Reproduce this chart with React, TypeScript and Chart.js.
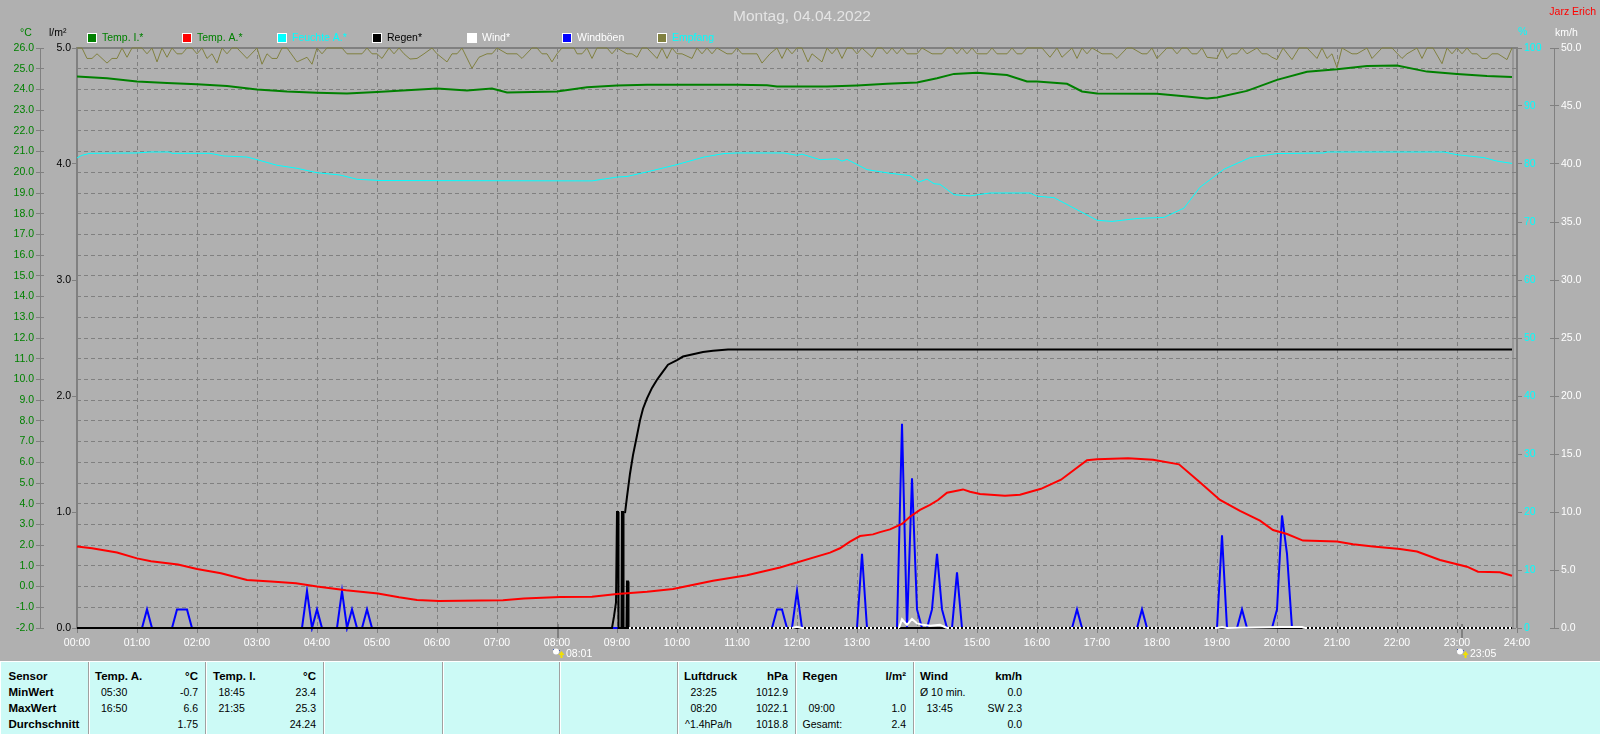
import React, { useEffect, useRef } from "react";
import { Chart, registerables } from "chart.js";

Chart.register(...registerables);

const FONT = '"Liberation Sans", Arial, sans-serif';

// ---- series (minutes since midnight / values) ----
const tempIMin = [0,30,60,90,120,150,180,210,240,270,300,330,360,390,415,430,480,510,540,570,660,690,700,750,780,810,840,860,877,900,930,950,960,990,1005,1020,1080,1110,1130,1140,1170,1200,1230,1260,1290,1320,1350,1380,1410,1435];
const tempIVal = [24.62,24.54,24.38,24.31,24.25,24.16,24.0,23.9,23.84,23.8,23.88,23.96,24.04,23.95,24.04,23.85,23.9,24.11,24.19,24.22,24.22,24.2,24.14,24.14,24.19,24.27,24.33,24.54,24.75,24.81,24.7,24.38,24.38,24.27,23.9,23.8,23.79,23.66,23.56,23.61,23.93,24.46,24.85,24.97,25.13,25.15,24.86,24.75,24.65,24.6];

const tempAMin = [0,15,40,60,74,101,120,144,170,194,219,240,269,301,322,340,362,426,447,483,515,540,570,596,636,670,703,753,763,773,783,796,803,813,825,833,843,853,861,870,886,893,903,928,943,964,984,1010,1020,1051,1076,1102,1122,1143,1163,1183,1196,1210,1226,1260,1276,1296,1323,1340,1363,1390,1401,1423,1435];
const tempAVal = [1.93,1.85,1.64,1.36,1.22,1.07,0.85,0.64,0.32,0.24,0.16,0,-0.18,-0.33,-0.52,-0.65,-0.7,-0.66,-0.58,-0.5,-0.49,-0.36,-0.25,-0.12,0.28,0.55,0.92,1.64,1.85,2.17,2.44,2.52,2.63,2.76,3.02,3.37,3.7,3.94,4.18,4.53,4.69,4.58,4.47,4.38,4.43,4.72,5.16,6.1,6.15,6.2,6.12,5.9,5.07,4.18,3.65,3.18,2.73,2.54,2.22,2.17,2.04,1.93,1.81,1.69,1.28,0.96,0.72,0.69,0.52];

const humMin = [0,5,13,60,73,92,95,133,147,170,180,200,220,240,263,280,303,515,540,550,573,600,627,647,660,707,720,725,743,760,765,770,790,813,833,842,850,857,863,877,893,913,953,960,977,1020,1035,1060,1087,1107,1123,1147,1173,1200,1247,1250,1367,1380,1407,1420,1435];
const humVal = [81.04,81.5,81.84,81.9,82.07,82.07,81.84,81.84,81.38,81.2,80.75,79.78,79.26,78.5,78.1,77.37,77.15,77.09,77.74,77.85,78.76,79.9,81.2,81.8,81.9,81.9,81.5,81.7,80.75,80.9,80.5,80.8,79.03,78.4,78,76.9,77.4,76.6,76.5,74.7,74.5,75,75,74.45,74.2,70.3,70.1,70.6,70.8,72.4,76,79.1,81.1,81.8,81.9,82.07,82.07,81.6,81.1,80.5,80.1];

const rainTotalMin = [548,550,553,556,560,563,566,570,575,580,585,591,600,606,616,626,636,651,1435];
const rainTotalVal = [0.99,1.13,1.33,1.49,1.66,1.79,1.89,1.98,2.07,2.14,2.2,2.27,2.31,2.34,2.36,2.38,2.39,2.4,2.4];

const rainRateMin = [0,535,537,539,540,541,541.5,544.5,545,546,546.5,549.5,550,551,551.5,1435];
const rainRateVal = [0,0,0.1,0.22,1,1,0,0,1,1,0,0,0.4,0.4,0,0];

const windMin = [552,715,720,725,822,825,830,835,840,846,853,863,870,1140,1145,1150,1205,1225,1228,1435];
const windVal = [0,0,0.1,0,0,0.75,0.27,0.78,0.4,0.27,0.2,0.27,0,0,0.08,0,0.08,0.08,0,0];

const gustMin = [0,65,70,75,95,100,110,115,225,230,235,240,245,260,265,270,275,280,285,290,295,695,700,705,710,715,720,725,780,785,790,820,825,830,835,840,845,850,855,860,865,870,875,880,885,995,1000,1005,1060,1065,1070,1140,1145,1150,1160,1165,1170,1195,1200,1205,1210,1215];
const gustVal = [0,0,1.6,0,0,1.6,1.6,0,0,3.2,0,1.6,0,0,3.2,0,1.6,0,0,1.6,0,0,1.6,1.6,0,0,3.2,0,0,6.4,0,0,17.6,0,12.9,1.6,0,0,1.6,6.4,1.6,0,0,4.8,0,0,1.6,0,0,1.6,0,0,8,0,0,1.6,0,0,1.6,9.7,6.4,0];

const receptionMin = [0,5,10,15,20,30,35,40,45,50,55,65,70,75,80,85,90,95,100,105,110,115,120,125,130,135,140,145,150,155,160,170,180,185,190,195,200,205,210,220,230,235,240,245,250,265,270,285,290,295,300,305,312,317,322,327,333,340,347,355,360,370,375,380,385,395,402,410,415,420,430,440,445,455,460,465,470,475,480,485,497,500,505,510,515,520,530,535,540,550,555,560,565,570,580,585,590,595,600,605,615,620,625,630,635,640,650,655,660,665,680,685,693,700,705,710,715,720,725,731,735,745,750,755,760,765,770,775,780,785,795,800,805,810,815,820,825,830,840,845,855,865,870,875,880,885,890,895,900,910,915,920,930,935,940,945,950,960,965,973,980,985,995,1000,1005,1010,1015,1025,1035,1040,1050,1055,1065,1070,1075,1080,1090,1095,1100,1105,1110,1115,1120,1125,1130,1140,1145,1150,1155,1160,1165,1170,1180,1185,1190,1195,1200,1206,1215,1222,1230,1240,1245,1250,1255,1260,1265,1275,1280,1290,1295,1305,1315,1325,1330,1340,1345,1350,1356,1365,1370,1375,1380,1385,1390,1395,1400,1405,1410,1415,1421,1430,1435];
const receptionVal = [100,100,98.2,98.2,99,97.4,98.2,98.2,100,98.4,100,100,99,100,97.6,100,98.4,100,99,99,100,100,99,100,98.2,99,97.4,100,99,100,100,98.2,100,97.2,99,98.2,98.2,100,100,97.6,98.4,97.2,100,99,100,100,99,99,100,99,99,98.2,100,99,100,99,98.1,98.2,99,100,99,97.6,99,99,100,96.5,98.4,99,99,100,99,99,98.2,100,100,99,99,97.6,99,100,100,99,99,100,98.2,100,100,99,100,99,99,98.4,100,100,98.2,100,98.2,100,99,99,98.2,100,99,100,99,100,99,99,100,99,99,97.4,99,100,98.2,100,99,100,100,97.6,99,97.6,100,99,100,98.2,100,100,99,100,98.4,100,100,99,100,99,100,99,99,100,99,99,100,100,99,100,99,100,99,99,100,99,99,100,99,99,100,100,100,98.4,100,98.4,100,98.2,100,99,100,99,99,98.2,100,100,99,99,100,98.2,100,100,99,100,100,99,99,100,98.4,98.2,100,98.2,99,99,100,99,100,99,99,98.4,98,100,98,100,100,98.2,100,98.2,99,96.6,100,99,99,100,98.2,100,100,98.2,99,100,98.2,100,100,97.3,100,99,100,99,100,99,99,98.2,98.2,99,99,98,100,99];

// ---- axes ----
const tempRange = [-2, 26];
const rainRange = [0, 5];
const humRange = [0, 100];
const windRange = [0, 50];
const hourRange = [0, 1440];

// ---- legend ----
const legendLabels = ["Temp. I.*", "Temp. A.*", "Feuchte A.*", "Regen*", "Wind*", "Windböen", "Empfang"];
const legendSwatches = ["#008000", "#ff0000", "#00ffff", "#000000", "#ffffff", "#0000ff", "#808040"];
const legendTextColors = ["#008000", "#008000", "#00ffff", "#000000", "#ffffff", "#ffffff", "#00ffff"];

// ---- sun events ----
const sunMinutes = [481, 1385];
const sunLabels = ["08:01", "23:05"];

// ---- table ----
const separators = [88, 205, 323, 442, 559, 677, 795, 913];
type Cell = [number, number, string, boolean?, boolean?]; // x, row, text, right aligned, bold
const tableCells: Cell[] = [
  [8.5, 0, "Sensor", false, true], [8.5, 1, "MinWert", false, true], [8.5, 2, "MaxWert", false, true], [8.5, 3, "Durchschnitt", false, true],
  [95, 0, "Temp. A.", false, true], [198, 0, "°C", true, true],
  [101, 1, "05:30"], [198, 1, "-0.7", true], [101, 2, "16:50"], [198, 2, "6.6", true], [198, 3, "1.75", true],
  [213, 0, "Temp. I.", false, true], [316, 0, "°C", true, true],
  [218.5, 1, "18:45"], [316, 1, "23.4", true], [218.5, 2, "21:35"], [316, 2, "25.3", true], [316, 3, "24.24", true],
  [684, 0, "Luftdruck", false, true], [788, 0, "hPa", true, true],
  [690.5, 1, "23:25"], [788, 1, "1012.9", true], [690.5, 2, "08:20"], [788, 2, "1022.1", true], [685, 3, "^1.4hPa/h"], [788, 3, "1018.8", true],
  [802.5, 0, "Regen", false, true], [906, 0, "l/m²", true, true],
  [808.5, 2, "09:00"], [906, 2, "1.0", true], [802.5, 3, "Gesamt:"], [906, 3, "2.4", true],
  [920, 0, "Wind", false, true], [1022, 0, "km/h", true, true],
  [920, 1, "Ø 10 min."], [1022, 1, "0.0", true], [926.5, 2, "13:45"], [1022, 2, "SW 2.3", true], [1022, 3, "0.0", true],
];

const zip = (xs: number[], ys: number[]) => xs.map((x, i) => ({ x, y: ys[i] }));
const GRID = "#808080";
const DASH = [4, 3];

const decor = {
  id: "decor",
  beforeDatasetsDraw(chart: any) {
    const { ctx, chartArea: a, scales } = chart;
    ctx.save();
    ctx.strokeStyle = GRID;
    const line = (x1: number, y1: number, x2: number, y2: number, w: number) => {
      ctx.lineWidth = w;
      ctx.beginPath();
      ctx.moveTo(x1, y1);
      ctx.lineTo(x2, y2);
      ctx.stroke();
    };
    line(a.left - 1, a.top, a.right + 1, a.top, 2);
    line(a.left, a.top, a.left, a.bottom, 2);
    line(a.right, a.top, a.right, a.bottom, 2);
    line(a.right - 4, a.top, a.right - 4, a.bottom, 1);
    line(40.5, a.top, 40.5, a.bottom, 1);
    line(1554.5, a.top, 1554.5, a.bottom, 1);
    sunMinutes.forEach((m) => {
      const x = scales.x.getPixelForValue(m);
      line(x, a.bottom - 4, x, a.bottom + 10, 2);
    });
    ctx.restore();
  },
  afterDraw(chart: any) {
    const { ctx, scales } = chart;
    ctx.save();
    ctx.textBaseline = "middle";
    const text = (s: string, x: number, y: number, color: string, font: string, align: CanvasTextAlign = "left") => {
      ctx.font = font;
      ctx.fillStyle = color;
      ctx.textAlign = align;
      ctx.fillText(s, x, y);
    };
    const f = `10.5px ${FONT}`;
    text("Montag, 04.04.2022", 802, 16.5, "#e4e4e4", `15.5px ${FONT}`, "center");
    text("Jarz Erich", 1596, 12.5, "#ff0000", f, "right");
    text("°C", 20, 33, "#008000", f);
    text("l/m²", 49, 33, "#000000", f);
    text("%", 1518, 32.5, "#00ffff", f);
    text("km/h", 1555, 33, "#ffffff", f);
    legendLabels.forEach((label, i) => {
      const x = 87 + 95 * i;
      ctx.fillStyle = "#ffffff";
      ctx.fillRect(x, 33, 10, 10);
      ctx.fillStyle = legendSwatches[i];
      ctx.fillRect(x + 1, 34, 8, 8);
      text(label, x + 15, 38, legendTextColors[i], f);
    });
    sunMinutes.forEach((m, i) => {
      const x = scales.x.getPixelForValue(m);
      ctx.fillStyle = "#ffffff";
      ctx.beginPath();
      ctx.arc(x - 2, 651.5, 3, 0, Math.PI * 2);
      ctx.fill();
      ctx.fillStyle = "#4060c0";
      ctx.fillRect(x - 5, 649, 1, 1);
      ctx.fillRect(x + 1, 650, 1, 1);
      ctx.fillStyle = "#f0e000";
      ctx.beginPath();
      ctx.moveTo(x + 3.5, 651);
      ctx.lineTo(x + 6.5, 655);
      ctx.lineTo(x + 4.5, 655);
      ctx.lineTo(x + 4.5, 658);
      ctx.lineTo(x + 2.5, 658);
      ctx.lineTo(x + 2.5, 655);
      ctx.lineTo(x + 0.5, 655);
      ctx.closePath();
      ctx.fill();
      text(sunLabels[i], x + 8, 654.5, "#ffffff", f);
    });
    ctx.restore();
  },
};

export default function App() {
  const ref = useRef<HTMLCanvasElement>(null);
  useEffect(() => {
    const tickFont = { family: FONT, size: 10.5 };
    const line = (label: string, color: string, width: number, axis: string, order: number, data: any[], extra: any = {}) => ({
      label,
      borderColor: color,
      backgroundColor: color,
      borderWidth: width,
      pointRadius: 0,
      tension: 0,
      yAxisID: axis,
      order,
      clip: 4,
      data,
      ...extra,
    });
    const chart = new Chart(ref.current!, {
      type: "line",
      data: {
        datasets: [
          line("Temp. A.*", "#ff0000", 2, "temp", 1, zip(tempAMin, tempAVal)),
          line("Temp. I.*", "#008000", 2, "temp", 2, zip(tempIMin, tempIVal)),
          line("Wind*", "#ffffff", 2, "wind", 3, zip(windMin, windVal), {
            segment: { borderDash: (c: any) => (c.p0.parsed.y === 0 && c.p1.parsed.y === 0 ? [2, 2] : undefined) },
          }),
          line("Regen*", "#000000", 2, "rain", 4, zip(rainTotalMin, rainTotalVal)),
          line("Regen", "#000000", 2, "rain", 5, zip(rainRateMin, rainRateVal)),
          line("Windböen", "#0000ff", 2, "wind", 6, zip(gustMin, gustVal)),
          line("Feuchte A.*", "#00ffff", 1, "hum", 7, zip(humMin, humVal)),
          line("Empfang", "#808040", 1, "hum", 8, zip(receptionMin, receptionVal)),
        ],
      },
      options: {
        responsive: false,
        animation: false,
        devicePixelRatio: 1,
        layout: { padding: { top: 48, left: 0, right: 0, bottom: 0 } },
        plugins: { legend: { display: false }, title: { display: false }, tooltip: { enabled: false } },
        scales: {
          x: {
            type: "linear",
            min: hourRange[0],
            max: hourRange[1],
            afterFit: (s: any) => { s.height = 106; },
            afterBuildTicks: (s: any) => {
              const t = [];
              for (let m = hourRange[0]; m <= hourRange[1]; m += 60) t.push({ value: m });
              s.ticks = t;
            },
            ticks: {
              color: "#ffffff",
              font: tickFont,
              padding: 4,
              maxRotation: 0,
              autoSkip: false,
              callback: (v: any) => `${String(Math.floor(Number(v) / 60)).padStart(2, "0")}:00`,
            },
            grid: { color: GRID, tickLength: 5, lineWidth: 1 },
            border: { display: false, dash: DASH },
          },
          temp: {
            type: "linear",
            position: "left",
            weight: 2,
            min: tempRange[0],
            max: tempRange[1],
            afterFit: (s: any) => { s.width = 44; },
            ticks: { stepSize: 1, autoSkip: false, color: "#008000", font: tickFont, padding: 2, callback: (v: any) => Number(v).toFixed(1) },
            grid: { color: GRID, tickLength: 8, lineWidth: 1 },
            border: { display: false, dash: DASH },
          },
          rain: {
            type: "linear",
            position: "left",
            weight: 1,
            min: rainRange[0],
            max: rainRange[1],
            afterFit: (s: any) => { s.width = 33; },
            ticks: { stepSize: 1, autoSkip: false, color: "#000000", font: tickFont, padding: 1, callback: (v: any) => Number(v).toFixed(1) },
            grid: { color: GRID, tickLength: 5, drawOnChartArea: false },
            border: { display: false },
          },
          hum: {
            type: "linear",
            position: "right",
            weight: 1,
            min: humRange[0],
            max: humRange[1],
            afterFit: (s: any) => { s.width = 33; },
            ticks: { stepSize: 10, autoSkip: false, color: "#00ffff", font: tickFont, padding: 2, callback: (v: any) => String(v) },
            grid: { color: GRID, tickLength: 5, drawOnChartArea: false },
            border: { display: false },
          },
          wind: {
            type: "linear",
            position: "right",
            weight: 2,
            min: windRange[0],
            max: windRange[1],
            afterFit: (s: any) => { s.width = 50; },
            ticks: { stepSize: 5, autoSkip: false, color: "#ffffff", font: tickFont, padding: 2, callback: (v: any) => Number(v).toFixed(1) },
            grid: { color: GRID, tickLength: 9, drawOnChartArea: false },
            border: { display: false },
          },
        },
      },
      plugins: [decor],
    } as any);
    return () => chart.destroy();
  }, []);

  const rowY = [676, 691.7, 707.7, 724];
  return (
    <div style={{ position: "fixed", left: 0, top: 0, width: 1600, height: 734, overflow: "hidden", background: "#b0b0b0", fontFamily: FONT, color: "#000" }}>
      <canvas ref={ref} width={1600} height={734} style={{ position: "absolute", left: 0, top: 0, width: 1600, height: 734 }} />
      <div style={{ position: "absolute", left: 0, top: 661, width: 1600, height: 73, background: "#ccfaf6", borderTop: "1px solid #ffffff", borderLeft: "1px solid #ffffff", boxSizing: "border-box" }} />
      {separators.map((x) => (
        <div key={x} style={{ position: "absolute", left: x, top: 662, width: 1, height: 72, background: "#a0a0a0", borderRight: "1px solid #ffffff" }} />
      ))}
      {tableCells.map(([x, row, text, right, bold], i) => (
        <div
          key={i}
          style={{
            position: "absolute",
            top: rowY[row] - 8,
            height: 16,
            lineHeight: "16px",
            whiteSpace: "pre",
            fontSize: bold ? 11.5 : 10.5,
            fontWeight: bold ? 700 : 400,
            ...(right ? { right: 1600 - x } : { left: x }),
          }}
        >
          {text}
        </div>
      ))}
    </div>
  );
}
